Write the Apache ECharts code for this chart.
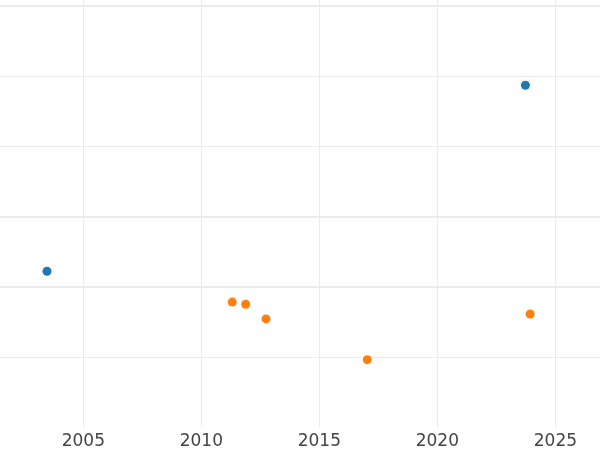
<!DOCTYPE html>
<html>
<head>
<meta charset="utf-8">
<script src="https://cdn.jsdelivr.net/npm/echarts@6/dist/echarts.min.js"></script>
<style>html,body{margin:0;padding:0;background:#fff;}#c{width:600px;height:450px;}</style>
</head>
<body>
<div id="c"></div>
<script>
// Data
const blueX = [2003.46, 2023.73];
const blueY = [1.22, 3.87];
const orangeX = [2011.31, 2011.88, 2012.74, 2017.03, 2023.93];
const orangeY = [0.78, 0.75, 0.54, -0.04, 0.61];
const thickGridValues = [1, 2, 5];

const chart = echarts.init(document.getElementById('c'));
const pair = (xs, ys) => xs.map((x, i) => [x, ys[i]]);
chart.setOption({
  animation: false,
  backgroundColor: '#ffffff',
  grid: { left: 0, right: 0, top: 0, bottom: 23, containLabel: false },
  xAxis: {
    type: 'value', min: 2001.47, max: 2026.89, minInterval: 5, maxInterval: 5,
    axisLine: { show: false }, axisTick: { show: false },
    axisLabel: { color: '#444444', fontSize: 17, fontFamily: 'DejaVu Sans', margin: 6,
      showMinLabel: false, showMaxLabel: false, formatter: v => String(v) },
    splitLine: { show: true, showMinLine: false, showMaxLine: false,
      lineStyle: { color: '#ebebeb', width: 1 } }
  },
  yAxis: {
    type: 'value', min: -1, max: 5.085, minInterval: 1, maxInterval: 1,
    axisLine: { show: false }, axisTick: { show: false }, axisLabel: { show: false },
    splitLine: { show: true, showMinLine: false, showMaxLine: false,
      lineStyle: { color: '#ebebeb', width: 1 } }
  },
  series: [
    {
      type: 'scatter', data: pair(blueX, blueY), symbolSize: 9,
      itemStyle: { color: '#1f77b4', opacity: 1 }, z: 3,
      markLine: {
        silent: true, symbol: 'none', label: { show: false },
        lineStyle: { color: '#ebebeb', width: 2, type: 'solid' },
        data: thickGridValues.map(v => ({ yAxis: v }))
      }
    },
    {
      type: 'scatter', data: pair(orangeX, orangeY), symbolSize: 9,
      itemStyle: { color: '#ff7f0e', opacity: 1 }, z: 3
    }
  ]
});
</script>
</body>
</html>
